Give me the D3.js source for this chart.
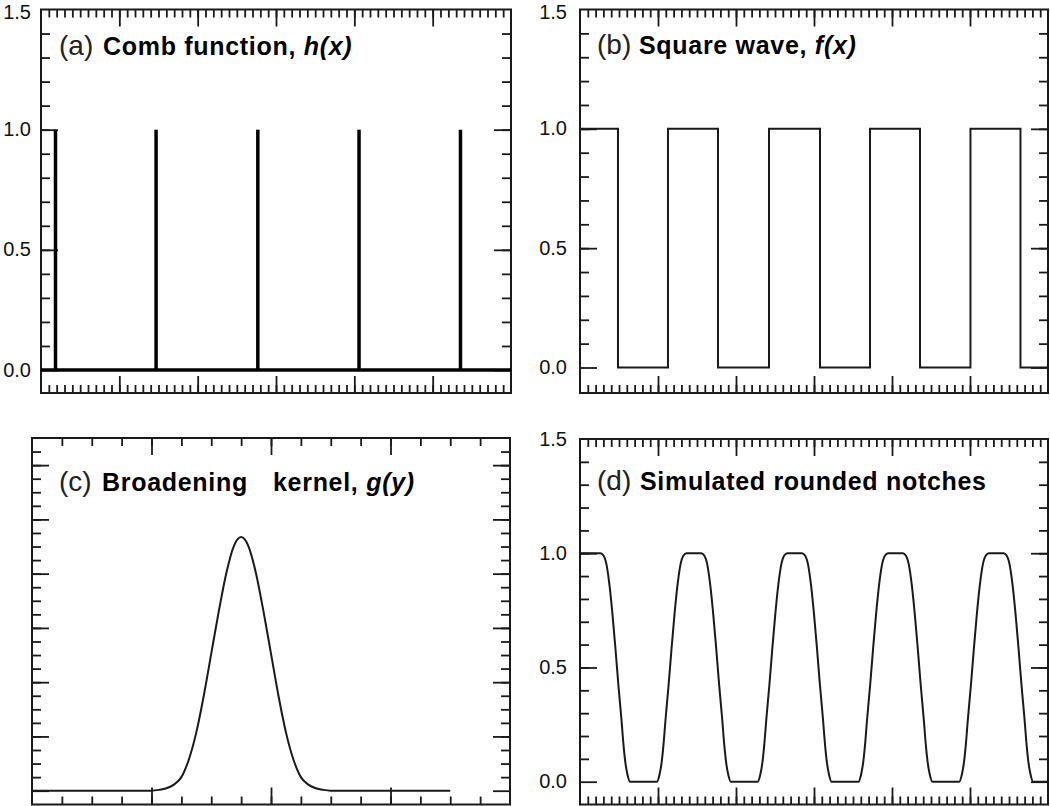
<!DOCTYPE html>
<html>
<head>
<meta charset="utf-8">
<script src="https://cdn.jsdelivr.net/npm/d3@7"></script>
<style>
  html, body { margin: 0; padding: 0; background: #fff; }
  svg { display: block; font-family: "Liberation Sans", Arial, sans-serif; }
</style>
</head>
<body>
<svg id="chart" width="1050" height="806"></svg>
<script>
// ---------------- data ----------------
const yLabelTicks = [0, 0.5, 1.0, 1.5];

// (a) comb function h(x)
const combX = [0.185, 1.469, 2.768, 4.06, 5.355];
const combY = [1, 1, 1, 1, 1];

// (b) square wave f(x)
const squareX = [0, 0.487, 1.128, 1.769, 2.423, 3.077, 3.718, 4.359, 5.006, 5.647, 6.0];
const squareY = [1, 0, 1, 0, 1, 0, 1, 0, 1, 0, 0];

// (c) broadening kernel g(y)
const kernelX = [0, 3.5, 4.0, 4.25, 4.5, 4.75, 5.0, 5.25, 5.5, 5.75, 6.0, 6.25, 6.5, 6.75, 7.0,
                 7.25, 7.5, 7.75, 8.0, 8.25, 8.5, 8.75, 9.0, 9.25, 9.5, 9.75, 10.0, 10.5, 14];
const kernelY = [0, 0, 0, 0.06, 0.18, 0.45, 1.0, 2.3, 4.3, 7.0, 10.1, 13.2, 16.0, 18.0, 18.7,
                 18.0, 16.0, 13.2, 10.1, 7.0, 4.3, 2.3, 1.0, 0.45, 0.18, 0.06, 0, 0, 0];

// (d) simulated rounded notches
const notchX = [0,
  0.263,0.301,0.340,0.378,0.417,0.455,0.493,0.532,0.558,0.583,0.609,0.641,
  0.987,1.019,1.045,1.070,1.096,1.135,1.173,1.211,1.250,1.288,1.327,1.365,
  1.555,1.593,1.632,1.670,1.709,1.747,1.785,1.824,1.850,1.875,1.901,1.933,
  2.279,2.311,2.337,2.362,2.388,2.427,2.465,2.503,2.542,2.580,2.619,2.657,
  2.847,2.885,2.924,2.962,3.001,3.039,3.077,3.116,3.142,3.167,3.193,3.225,
  3.571,3.603,3.629,3.654,3.680,3.719,3.757,3.795,3.834,3.872,3.911,3.949,
  4.139,4.177,4.216,4.254,4.293,4.331,4.369,4.408,4.434,4.459,4.485,4.517,
  4.863,4.895,4.921,4.946,4.972,5.011,5.049,5.087,5.126,5.164,5.203,5.241,
  5.431,5.469,5.508,5.546,5.585,5.623,5.661,5.700,5.726,5.751,5.777,5.809,
  6.0];
const notchY = [1,
  1.0,0.99,0.95,0.86,0.73,0.58,0.42,0.27,0.16,0.08,0.03,0.0,
  0.0,0.03,0.08,0.16,0.27,0.42,0.58,0.73,0.86,0.95,0.99,1.0,
  1.0,0.99,0.95,0.86,0.73,0.58,0.42,0.27,0.16,0.08,0.03,0.0,
  0.0,0.03,0.08,0.16,0.27,0.42,0.58,0.73,0.86,0.95,0.99,1.0,
  1.0,0.99,0.95,0.86,0.73,0.58,0.42,0.27,0.16,0.08,0.03,0.0,
  0.0,0.03,0.08,0.16,0.27,0.42,0.58,0.73,0.86,0.95,0.99,1.0,
  1.0,0.99,0.95,0.86,0.73,0.58,0.42,0.27,0.16,0.08,0.03,0.0,
  0.0,0.03,0.08,0.16,0.27,0.42,0.58,0.73,0.86,0.95,0.99,1.0,
  1.0,0.99,0.95,0.86,0.73,0.58,0.42,0.27,0.16,0.08,0.03,0.0,
  0.0];

// ---------------- drawing ----------------
const svg = d3.select("#chart");
const INK = "#1a1a1a";

function panel(cfg) {
  const g = svg.append("g");
  const x = d3.scaleLinear().domain(cfg.xDomain).range([cfg.left, cfg.right]);
  const y = d3.scaleLinear().domain(cfg.yDomain).range([cfg.zeroY, cfg.top]);

  const strip = sel => sel.call(s => s.select(".domain").remove())
    .selectAll("line").attr("stroke", INK).attr("stroke-width", 1.8);

  [[cfg.xMinor, 8], [cfg.xMajor, 17]].forEach(([vals, len]) => {
    g.append("g").attr("transform", `translate(0,${cfg.top})`)
      .call(d3.axisBottom(x).tickValues(vals).tickSize(len).tickFormat(""))
      .call(strip);
    g.append("g").attr("transform", `translate(0,${cfg.bottom})`)
      .call(d3.axisTop(x).tickValues(vals).tickSize(len).tickFormat(""))
      .call(strip);
  });
  [[cfg.yMinor, 9], [cfg.yMajor, 17]].forEach(([vals, len]) => {
    g.append("g").attr("transform", `translate(${cfg.left},0)`)
      .call(d3.axisRight(y).tickValues(vals).tickSize(len).tickFormat(""))
      .call(strip);
    g.append("g").attr("transform", `translate(${cfg.right},0)`)
      .call(d3.axisLeft(y).tickValues(vals).tickSize(len).tickFormat(""))
      .call(strip);
  });

  g.append("rect")
    .attr("x", cfg.left).attr("y", cfg.top)
    .attr("width", cfg.right - cfg.left).attr("height", cfg.bottom - cfg.top)
    .attr("fill", "none").attr("stroke", INK).attr("stroke-width", 2);

  if (cfg.labels) {
    const la = g.append("g").attr("transform", `translate(${cfg.left},0)`)
      .call(d3.axisLeft(y).tickValues(cfg.labels).tickSize(0).tickPadding(cfg.labelPad)
        .tickFormat(d3.format(".1f")));
    la.select(".domain").remove();
    la.selectAll("text").attr("font-size", 20).attr("fill", "#111").attr("dy", "0.33em")
      .attr("font-family", "'Liberation Sans', Arial, sans-serif");
    // keep the top label inside the page (its tick lies at the page edge)
    la.selectAll(".tick").attr("transform", d => `translate(0,${Math.max(y(d), 12)})`);
  }

  const t = g.append("text").attr("y", cfg.titleY).attr("fill", "#000").style("white-space", "pre");
  t.append("tspan").attr("x", cfg.titleX).attr("font-size", 28).attr("fill", "#222").text(cfg.tag);
  cfg.parts.forEach(p => {
    const s = t.append("tspan").attr("font-size", 25).attr("font-weight", "bold")
      .attr("letter-spacing", 0.7).text(p.text);
    if (p.x != null) s.attr("x", p.x);
    if (p.italic) s.attr("font-style", "italic");
  });
  return { g, x, y };
}

const xMinor6 = d3.range(1, 60).map(i => i / 10);
const xMajor6 = [1, 2, 3, 4, 5];
const yMinor15 = d3.range(1, 15).map(i => i / 10);
const yMajor15 = [0, 0.5, 1.0];

// (a)
const A = panel({
  left: 41, right: 511, top: 9.5, bottom: 393, zeroY: 370,
  xDomain: [0, 6], yDomain: [0, 1.5],
  xMinor: xMinor6, xMajor: xMajor6, yMinor: yMinor15, yMajor: yMajor15,
  labels: yLabelTicks, labelPad: 10,
  tag: "(a)", titleX: 59, titleY: 55,
  parts: [{ text: "Comb function, ", x: 103 }, { text: "h(x)", italic: true }]
});
A.g.append("line")
  .attr("x1", A.x(0)).attr("x2", A.x(6)).attr("y1", A.y(0)).attr("y2", A.y(0))
  .attr("stroke", "#000").attr("stroke-width", 3.5);
A.g.selectAll("line.spike").data(combX.map((v, i) => [v, combY[i]])).join("line")
  .attr("class", "spike")
  .attr("x1", d => A.x(d[0])).attr("x2", d => A.x(d[0]))
  .attr("y1", A.y(0)).attr("y2", d => A.y(d[1]))
  .attr("stroke", "#000").attr("stroke-width", 3.5);

// (b)
const B = panel({
  left: 580, right: 1048, top: 9.5, bottom: 393, zeroY: 367.5,
  xDomain: [0, 6], yDomain: [0, 1.5],
  xMinor: xMinor6, xMajor: xMajor6, yMinor: yMinor15, yMajor: yMajor15,
  labels: yLabelTicks, labelPad: 13,
  tag: "(b)", titleX: 597, titleY: 54,
  parts: [{ text: "Square wave, ", x: 639 }, { text: "f(x)", italic: true }]
});
B.g.append("path")
  .datum(squareX.map((v, i) => [v, squareY[i]]))
  .attr("d", d3.line().x(d => B.x(d[0])).y(d => B.y(d[1])).curve(d3.curveStepAfter))
  .attr("fill", "none").attr("stroke", INK).attr("stroke-width", 2);

// (c)
const C = panel({
  left: 32, right: 510, top: 438, bottom: 804.5, zeroY: 790.7,
  xDomain: [0, 16], yDomain: [0, 26],
  xMinor: d3.range(1, 16), xMajor: [4, 8, 12], yMinor: d3.range(1, 26), yMajor: [0, 4, 8, 12, 16, 20, 24],
  labels: null,
  tag: "(c)", titleX: 59, titleY: 491,
  parts: [{ text: "Broadening", x: 102 }, { text: "kernel, ", x: 273 }, { text: "g(y)", italic: true }]
});
C.g.append("path")
  .datum(kernelX.map((v, i) => [v, kernelY[i]]))
  .attr("d", d3.line().x(d => C.x(d[0])).y(d => C.y(d[1])).curve(d3.curveMonotoneX))
  .attr("fill", "none").attr("stroke", INK).attr("stroke-width", 2);

// (d)
const D = panel({
  left: 580, right: 1048, top: 439, bottom: 804.5, zeroY: 781.7,
  xDomain: [0, 6], yDomain: [0, 1.5],
  xMinor: xMinor6, xMajor: xMajor6, yMinor: yMinor15, yMajor: yMajor15,
  labels: yLabelTicks, labelPad: 13,
  tag: "(d)", titleX: 597, titleY: 490,
  parts: [{ text: "Simulated rounded notches", x: 640 }]
});
D.g.append("path")
  .datum(notchX.map((v, i) => [v, notchY[i]]))
  .attr("d", d3.line().x(d => D.x(d[0])).y(d => D.y(d[1])).curve(d3.curveMonotoneX))
  .attr("fill", "none").attr("stroke", INK).attr("stroke-width", 2);
</script>
</body>
</html>
